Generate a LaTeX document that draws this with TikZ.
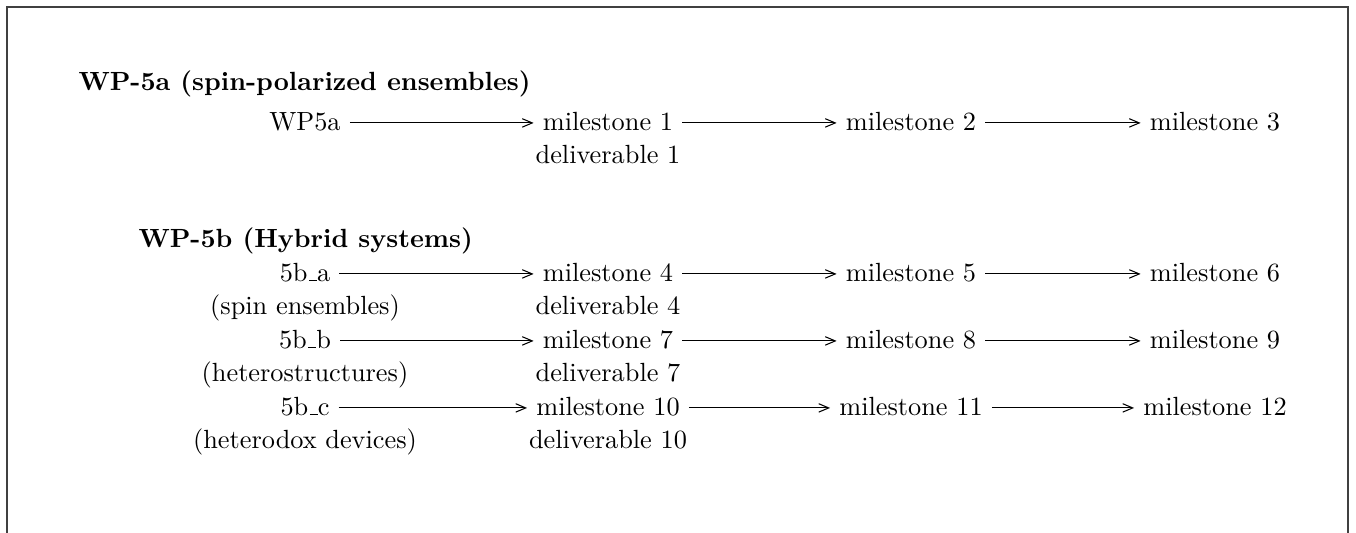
\documentclass[tikz,border=0pt]{standalone}
\usetikzlibrary{arrows.meta}
\newcommand\usc{\leavevmode\kern.06em\vbox{\hrule width.3em}}
\begin{document}
\begin{tikzpicture}[x=0.38023pt,y=-0.38023pt,
  cell/.style={anchor=base,inner sep=3.33pt,text height=1.5ex,text depth=0.25ex},
  ttl/.style={anchor=base west,inner sep=0pt,font=\bfseries},
  arr/.style={-{Straight Barb[length=3.8pt,width=3.2pt,line width=0.4pt]},line width=0.4pt}]
\useasboundingbox (0,0) rectangle (1356,532);
\draw[line width=0.7pt,black!75] (7,560) -- (7,7) -- (1348,7) -- (1348,560);
% titles
\node[ttl] (ta) at (78,90) {WP-5a (spin-polarized ensembles)};
\node[ttl] (tb) at (138,247) {WP-5b (Hybrid systems)};
% row 1
\node[cell] (a0) at (305,130) {WP5a};
\node[cell] (a1) at (608,130) {milestone 1};
\node[cell] (a2) at (911,130) {milestone 2};
\node[cell] (a3) at (1215,130) {milestone 3};
\node[cell] (ad) at (608,163) {deliverable 1};
% row 4
\node[cell] (b0) at (305,281) {5b\usc a};
\node[cell] (b1) at (608,281) {milestone 4};
\node[cell] (b2) at (911,281) {milestone 5};
\node[cell] (b3) at (1215,281) {milestone 6};
\node[cell] (bs) at (305,314) {(spin ensembles)};
\node[cell] (bd) at (608,314) {deliverable 4};
% row 7
\node[cell] (c0) at (305,348) {5b\usc b};
\node[cell] (c1) at (608,348) {milestone 7};
\node[cell] (c2) at (911,348) {milestone 8};
\node[cell] (c3) at (1215,348) {milestone 9};
\node[cell] (cs) at (305,381) {(heterostructures)};
\node[cell] (cd) at (608,381) {deliverable 7};
% row 10
\node[cell] (d0) at (305,415) {5b\usc c};
\node[cell] (d1) at (608,415) {milestone 10};
\node[cell] (d2) at (911,415) {milestone 11};
\node[cell] (d3) at (1215,415) {milestone 12};
\node[cell] (ds) at (305,448) {(heterodox devices)};
\node[cell] (dd) at (608,448) {deliverable 10};
% arrows
\foreach \r in {a,b,c,d}{
  \draw[arr] (\r0) -- (\r1);
  \draw[arr] (\r1) -- (\r2);
  \draw[arr] (\r2) -- (\r3);
}
\end{tikzpicture}
\end{document}
